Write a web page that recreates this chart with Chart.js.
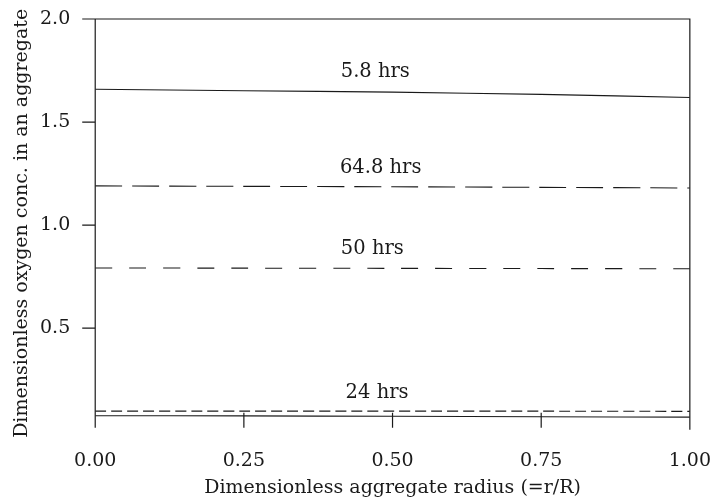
<!DOCTYPE html>
<html>
<head>
<meta charset="utf-8">
<script src="https://cdn.jsdelivr.net/npm/chart.js@4/dist/chart.umd.min.js"></script>
<style>
  html, body { margin: 0; padding: 0; background: #fff; }
  #wrap { width: 713px; height: 497px; position: relative; }
</style>
</head>
<body>
<div id="wrap"><canvas id="c"></canvas></div>
<script>
// Dimensionless radius positions
const radius = [0, 0.25, 0.5, 0.75, 1.0];

// Oxygen concentration profiles at each time
const conc58 = [1.659, 1.652, 1.645, 1.634, 1.619];
const conc648 = [1.190, 1.188, 1.186, 1.183, 1.180];
const conc50 = [0.792, 0.791, 0.790, 0.789, 0.788];
const conc24a = [0.097, 0.097, 0.097, 0.097, 0.096];
const conc24b = [0.075, 0.074, 0.072, 0.070, 0.068];

// Curve captions and the data point each is anchored at
const captions = ['5.8 hrs', '64.8 hrs', '50 hrs', '24 hrs'];
const captionX = [0.471, 0.480, 0.466, 0.474];
const captionY = [1.743, 1.278, 0.885, 0.187];

const xTicks = [0, 0.25, 0.5, 0.75, 1.0];
const yTicks = [0.5, 1.0, 1.5, 2.0];

const FONT = '"DejaVu Serif", "Liberation Serif", serif';
const INK = '#1a1a1a';

function series(vals, dash) {
  return {
    data: radius.map((r, i) => ({ x: r, y: vals[i] })),
    borderColor: INK,
    borderWidth: 1.1,
    borderDash: dash,
    pointRadius: 0,
    tension: 0.3,
    fill: false
  };
}

// Frame (left, top, right), outward y ticks, inward x ticks and curve captions
const decor = {
  id: 'decor',
  afterDatasetsDraw(chart) {
    const { ctx, chartArea: a, scales } = chart;
    ctx.save();
    ctx.strokeStyle = INK;
    ctx.lineWidth = 1.2;
    ctx.beginPath();
    ctx.moveTo(a.left, a.bottom);
    ctx.lineTo(a.left, a.top);
    ctx.lineTo(a.right, a.top);
    ctx.lineTo(a.right, a.bottom + 2);
    yTicks.forEach(v => {
      const py = scales.y.getPixelForValue(v);
      ctx.moveTo(a.left - 13, py);
      ctx.lineTo(a.left, py);
    });
    xTicks.forEach(v => {
      const px = scales.x.getPixelForValue(v);
      ctx.moveTo(px, a.bottom);
      ctx.lineTo(px, a.bottom - 15);
    });
    ctx.stroke();

    ctx.fillStyle = INK;
    ctx.font = '19.5px ' + FONT;
    ctx.textAlign = 'center';
    ctx.textBaseline = 'middle';
    captions.forEach((t, i) => {
      ctx.fillText(t, scales.x.getPixelForValue(captionX[i]), scales.y.getPixelForValue(captionY[i]));
    });
    ctx.restore();
  }
};

new Chart(document.getElementById('c'), {
  type: 'line',
  data: {
    datasets: [
      series(conc58, []),
      series(conc648, [27, 10]),
      series(conc50, [17, 17]),
      series(conc24a, [11, 5]),
      series(conc24b, [])
    ]
  },
  options: {
    responsive: true,
    maintainAspectRatio: false,
    animation: false,
    layout: { padding: { top: 19, right: 4, left: 0, bottom: 0 } },
    plugins: { legend: { display: false }, tooltip: { enabled: false } },
    scales: {
      x: {
        type: 'linear',
        min: 0,
        max: 1,
        afterBuildTicks: s => { s.ticks = xTicks.map(v => ({ value: v })); },
        ticks: {
          color: INK,
          font: { family: FONT, size: 19 },
          padding: 2,
          maxRotation: 0,
          callback: v => Number(v).toFixed(2)
        },
        grid: {
          display: true,
          drawOnChartArea: false,
          drawTicks: true,
          tickLength: 20.5,
          color: 'rgba(0,0,0,0)'
        },
        border: { display: false },
        title: {
          display: true,
          text: 'Dimensionless aggregate radius (=r/R)',
          color: INK,
          font: { family: FONT, size: 19, lineHeight: 0.95 },
          padding: { top: 4, bottom: 0 }
        }
      },
      y: {
        type: 'linear',
        min: 0.017,
        max: 2.0,
        afterBuildTicks: s => { s.ticks = yTicks.map(v => ({ value: v })); },
        ticks: {
          color: INK,
          font: { family: FONT, size: 19 },
          padding: 6,
          callback: v => Number(v).toFixed(1)
        },
        grid: {
          display: true,
          drawOnChartArea: false,
          drawTicks: true,
          tickLength: 19,
          color: 'rgba(0,0,0,0)'
        },
        border: { display: false },
        title: {
          display: true,
          text: 'Dimensionless oxygen conc. in an aggregate',
          color: INK,
          font: { family: FONT, size: 19, lineHeight: 1.0 },
          padding: { top: 13, bottom: 2 }
        }
      }
    }
  },
  plugins: [decor]
});
</script>
</body>
</html>
